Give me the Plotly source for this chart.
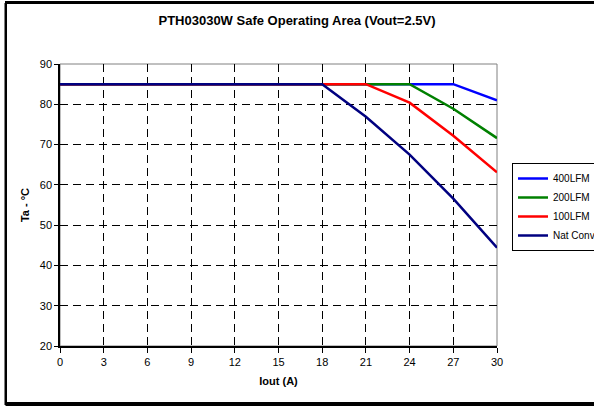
import plotly.graph_objects as go

iout = [0, 3, 6, 9, 12, 15, 18, 21, 24, 27, 30]
lfm400 = [85, 85, 85, 85, 85, 85, 85, 85, 85, 85, 81.0]
lfm200 = [85, 85, 85, 85, 85, 85, 85, 85, 85, 78.9, 71.6]
lfm100 = [85, 85, 85, 85, 85, 85, 85, 85, 80.4, 72.2, 63.1]
natconv = [85, 85, 85, 85, 85, 85, 85, 76.9, 67.5, 56.6, 44.4]

series = [
    ("400LFM", lfm400, "#0000FF"),
    ("200LFM", lfm200, "#008000"),
    ("100LFM", lfm100, "#FF0000"),
    ("Nat Conv", natconv, "#000080"),
]

fig = go.Figure()
for name, vals, col in series:
    fig.add_trace(go.Scatter(x=iout, y=vals, mode="lines", name=name,
                             line=dict(color=col, width=2.5)))

W, H = 594, 407
L, R, T, B = 60, 97, 64, 61
pw, ph = W - L - R, H - T - B

def px(p):
    return (p - L) / pw

def py(p):
    return (H - B - p) / ph

border = dict(color="black", width=2)

fig.update_layout(
    width=W, height=H,
    margin=dict(l=L, r=R, t=T, b=B, autoexpand=False),
    paper_bgcolor="white", plot_bgcolor="white",
    font=dict(family="Liberation Sans, Arial, sans-serif", color="black", size=11),
    title=dict(text="<b>PTH03030W Safe Operating Area (Vout=2.5V)</b>",
               x=297 / W, xanchor="center", xref="container",
               y=1 - 20 / H, yanchor="middle", yref="container", font=dict(size=13)),
    showlegend=True,
    legend=dict(x=px(512), y=py(163), xanchor="left", yanchor="top",
                bordercolor="black", borderwidth=1, bgcolor="white",
                font=dict(size=10), tracegroupgap=0, itemwidth=30),
    xaxis=dict(range=[0, 30], tickvals=[0, 3, 6, 9, 12, 15, 18, 21, 24, 27, 30],
               showgrid=True, gridcolor="black", griddash="8px,5px", gridwidth=1,
               showline=True, linecolor="black", linewidth=1.5,
               ticks="outside", ticklen=5, tickcolor="black",
               zeroline=False,
               title=dict(text="<b>Iout (A)</b>", font=dict(size=11), standoff=10),
               tickfont=dict(size=11)),
    yaxis=dict(range=[20, 90], tickvals=[20, 30, 40, 50, 60, 70, 80, 90],
               showgrid=True, gridcolor="black", griddash="8px,5px", gridwidth=1,
               showline=True, linecolor="black", linewidth=1.5,
               ticks="outside", ticklen=4, tickcolor="black",
               zeroline=False,
               title=dict(text="<b>Ta - °C</b>", font=dict(size=11), standoff=8),
               tickfont=dict(size=11)),
    shapes=[
        dict(type="rect", xref="paper", yref="paper", x0=0, x1=1, y0=0, y1=1,
             line=dict(color="#808080", width=1), layer="below"),
        dict(type="line", xref="paper", yref="paper",
             x0=px(5.5), x1=px(600), y0=py(3), y1=py(3), line=border, layer="above"),
        dict(type="line", xref="paper", yref="paper",
             x0=px(5.5), x1=px(600), y0=py(405), y1=py(405), line=border, layer="above"),
        dict(type="line", xref="paper", yref="paper",
             x0=px(5.5), x1=px(5.5), y0=py(405), y1=py(3), line=border, layer="above"),
    ],
)

post = (
    "document.body.style.margin='0';document.body.style.overflow='hidden';"
    "var d=document.createElement('div');"
    "d.style.cssText='position:absolute;left:5px;top:1px;width:600px;height:403px;"
    "border:2px solid black;pointer-events:none;box-sizing:border-box;';"
    "document.body.appendChild(d);"
)

fig.write_html("out.html", config={"displayModeBar": False}, post_script=post)
